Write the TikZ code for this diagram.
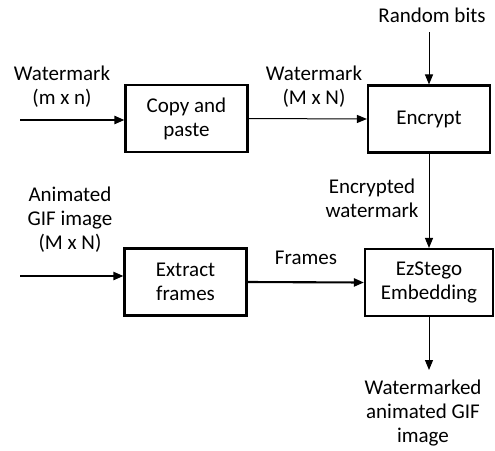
\documentclass[tikz,border=0pt]{standalone}
\usepackage{fontspec}
\setmainfont{Carlito}
\usetikzlibrary{arrows.meta}
\begin{document}
\begin{tikzpicture}[x=1pt,y=-1pt,
  font=\fontsize{21}{24}\selectfont,
  blk/.style={draw, line width=2.1pt, align=center, inner sep=0pt, minimum height=67pt},
  lbl/.style={align=center, inner sep=0pt},
  tip/.style={-{Triangle[length=10pt,width=8pt]}},
  flowthin/.style={tip, line width=1pt},
  flowthick/.style={tip, line width=2.1pt}]
\useasboundingbox (0,0) rectangle (495,450);

% processing blocks
\node[blk, minimum width=122pt] (copy)    at (186.5,118.5) {Copy and\\paste};
\node[blk, minimum width=122pt] (encrypt) at (429,119)     {Encrypt};
\node[blk, minimum width=122pt] (extract) at (185.5,282)   {Extract\\frames};
\node[blk, minimum width=128pt] (embed)   at (429,282.5)   {EzStego\\Embedding};

% labels
\node[lbl] (wmin)   at (62,87)   {Watermark\\(m x n)};
\node[lbl] (wmbig)  at (314,87)  {Watermark\\(M x N)};
\node[lbl] (rand)   at (432,15)  {Random bits};
\node[lbl] (encwm)  at (372,198) {Encrypted\\watermark};
\node[lbl] (gif)    at (70,220)  {Animated\\GIF image\\(M x N)};
\node[lbl] (frames) at (306,258) {Frames};
\node[lbl] (result) at (423,413) {Watermarked\\animated GIF\\image};

% free ends of the connectors
\coordinate (wmstart)  at (20,120);
\coordinate (gifstart) at (20,276);
\coordinate (randend)  at (429,32);
\coordinate (outtip)   at (429,370);

% connectors
\draw[flowthick] (wmstart) -- (wmstart -| copy.west);
\draw[flowthin]  (copy.east) -- (encrypt.west);
\draw[flowthin]  (randend) -- (encrypt.north);
\draw[flowthin]  (encrypt.south) -- (embed.north);
\draw[flowthick] (gifstart) -- (gifstart -| extract.west);
\draw[flowthick] (extract.east) -- (embed.west);
\draw[flowthin]  (embed.south) -- (outtip);
\end{tikzpicture}
\end{document}
